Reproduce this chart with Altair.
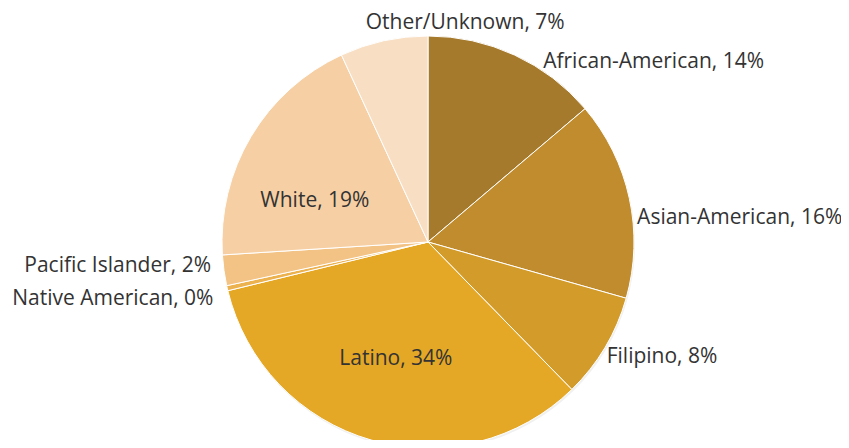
import altair as alt
import pandas as pd

categories = ["African-American", "Asian-American", "Filipino", "Latino",
              "Native American", "Pacific Islander", "White", "Other/Unknown"]
values = [13.8, 15.6, 8.3, 33.5, 0.4, 2.4, 19.1, 6.9]
labels = ["African-American, 14%", "Asian-American, 16%", "Filipino, 8%", "Latino, 34%",
          "Native American, 0%", "Pacific Islander, 2%", "White, 19%", "Other/Unknown, 7%"]
colors = ["#A67A2C", "#C08C2E", "#D39B2A", "#E5A826",
          "#EDB250", "#F2C385", "#F6D0A4", "#F8DEC3"]

df = pd.DataFrame({"cat": categories, "value": values, "label": labels,
                   "idx": list(range(len(categories)))})

CX, CY = 420, 234
R = 206

base = alt.Chart(df).encode(
    theta=alt.Theta("value:Q", stack=True),
    order=alt.Order("idx:Q"),
)

shadow = base.mark_arc(radius=R, color="#000000", opacity=0.06).encode(
    x=alt.value(CX + 1), y=alt.value(CY + 2))

pie = base.mark_arc(radius=R, stroke="#ffffff", strokeWidth=1).encode(
    x=alt.value(CX), y=alt.value(CY),
    color=alt.Color("cat:N", scale=alt.Scale(domain=categories, range=colors), legend=None),
)

# per-label placement: (radius, align, dx, dy)
place = {
    "Other/Unknown": (227, "center", 86, 3),
    "African-American": (198, "left", 32, 0),
    "Asian-American": (215, "left", -1, 22),
    "Filipino": (215, "left", -6, 5),
    "Pacific Islander": (215, "right", -4, -6),
    "Native American": (215, "right", -5, 9),
    "White": (120, "center", -10, 20),
    "Latino": (120, "center", 1, 2),
}

text_layers = []
for cat, (r, al, dx, dy) in place.items():
    t = base.mark_text(radius=r, align=al, baseline="middle", dx=dx, dy=dy,
                       font="Open Sans", fontSize=21, color="#333333").encode(
        x=alt.value(CX), y=alt.value(CY),
        text=alt.condition(alt.datum.cat == cat, "label:N", alt.value("")),
    )
    text_layers.append(t)

chart = alt.layer(shadow, pie, *text_layers).properties(
    width=833, height=432, autosize=alt.AutoSizeParams(type="none"), padding=0,
).configure_view(stroke=None)

chart.save("out.html", embed_options={"renderer": "svg", "actions": False})
